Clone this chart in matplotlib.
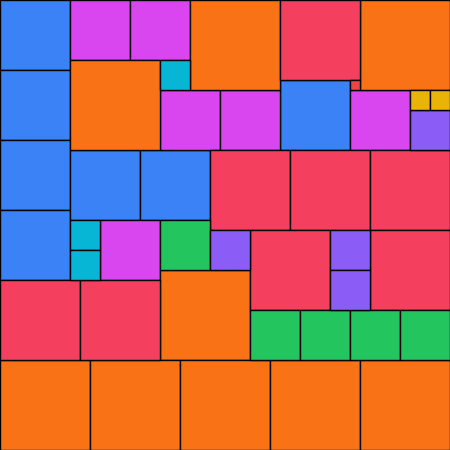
import matplotlib

matplotlib.use("Agg")
import matplotlib.pyplot as plt
from matplotlib.patches import Rectangle

# packed squares: left, top, side (grid units of 10 px), group
lefts = [0, 0, 0, 0, 7, 14, 28,
         7, 13, 16, 22, 10, 35,
         19, 36, 7, 16, 0, 9, 18, 27, 36,
         28, 0, 8, 21, 29, 37, 25, 37,
         35,
         16, 7, 7,
         16, 25, 30, 35, 40,
         41, 21, 33, 33,
         41, 43]
tops = [0, 7, 14, 21, 15, 15, 8,
        0, 0, 9, 9, 22, 9,
        0, 0, 6, 27, 36, 36, 36, 36, 36,
        0, 28, 28, 15, 15, 15, 23, 23,
        8,
        6, 22, 25,
        22, 31, 31, 31, 31,
        11, 23, 23, 27,
        9, 9]
sides = [7, 7, 7, 7, 7, 7, 7,
         6, 6, 6, 6, 6, 6,
         9, 9, 9, 9, 9, 9, 9, 9, 9,
         8, 8, 8, 8, 8, 8, 8, 8,
         1,
         3, 3, 3,
         5, 5, 5, 5, 5,
         4, 4, 4, 4,
         2, 2]
groups = (["blue"] * 7 + ["magenta"] * 6 + ["orange"] * 9 + ["rose"] * 8
          + ["red"] + ["cyan"] * 3 + ["green"] * 5 + ["purple"] * 4 + ["yellow"] * 2)

palette = {
    "blue": "#3b82f6",
    "magenta": "#d946ef",
    "orange": "#f97316",
    "rose": "#f43f5e",
    "red": "#ef4444",
    "cyan": "#06b6d4",
    "green": "#22c55e",
    "purple": "#8b5cf6",
    "yellow": "#eab308",
}

fig = plt.figure(figsize=(4.5, 4.5), dpi=100)
ax = fig.add_axes([0, 0, 1, 1])
ax.set_xlim(0, 45)
ax.set_ylim(45, 0)
ax.axis("off")

for x, y, s, g in zip(lefts, tops, sides, groups):
    ax.add_patch(Rectangle((x, y), s, s, facecolor=palette[g],
                           edgecolor="black", linewidth=1.0))

fig.savefig("out.png", dpi=100)
